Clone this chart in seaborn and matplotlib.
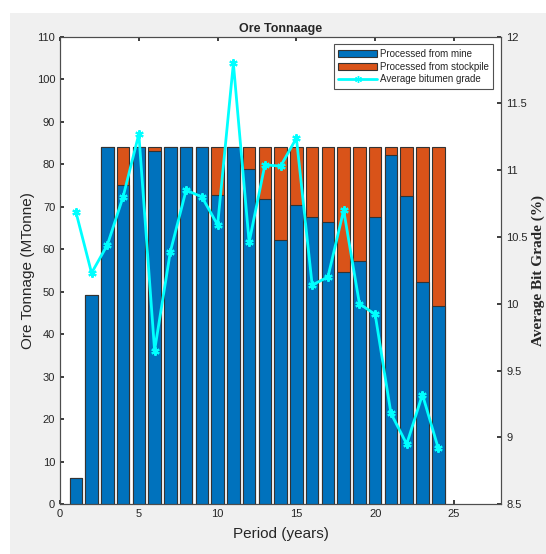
import matplotlib
matplotlib.use("Agg")
import matplotlib.pyplot as plt
import numpy as np
import pandas as pd
import seaborn as sns
from matplotlib.lines import Line2D
from matplotlib.patches import Patch, Rectangle

# data
periods = list(range(1, 25))
from_mine = [6.2, 49.3, 84.0, 75.0, 84.0, 83.0, 84.0, 84.0, 84.0, 72.8, 84.0, 78.9,
             71.8, 62.2, 70.3, 67.6, 66.3, 54.7, 57.3, 67.6, 82.2, 72.6, 52.2, 46.5]
from_stockpile = [0.0, 0.0, 0.0, 9.0, 0.0, 1.0, 0.0, 0.0, 0.0, 11.2, 0.0, 5.1,
                  12.2, 21.8, 13.7, 16.4, 17.7, 29.3, 26.7, 16.4, 1.8, 11.4, 31.8, 37.5]
avg_grade = [10.69, 10.23, 10.44, 10.80, 11.27, 9.65, 10.39, 10.85, 10.80, 10.59, 11.80, 10.46,
             11.04, 11.03, 11.24, 10.14, 10.20, 10.70, 10.00, 9.92, 9.18, 8.95, 9.32, 8.92]

BLUE = "#0072BD"
ORANGE = "#D95319"
CYAN = "#00FFFF"

df = pd.DataFrame({"period": periods, "mine": from_mine, "stockpile": from_stockpile,
                   "grade": avg_grade})
df["total"] = df["mine"] + df["stockpile"]

sns.set_theme(style="white")
plt.rcParams["font.family"] = ["Liberation Sans", "DejaVu Sans"]

fig = plt.figure(figsize=(5.46, 5.54), dpi=100, facecolor="#f0f0f0")
# white strips along the top and left edges of the screenshot
fig.patches.append(Rectangle((0, 1 - 13 / 554), 1, 13 / 554, transform=fig.transFigure,
                             facecolor="white", edgecolor="none", zorder=-1))
fig.patches.append(Rectangle((0, 0), 10 / 546, 1, transform=fig.transFigure,
                             facecolor="white", edgecolor="none", zorder=-1))
ax = fig.add_axes([0.110, 0.090, 0.808, 0.844])
ax.set_facecolor("white")

sns.barplot(data=df, x="period", y="total", native_scale=True, color=ORANGE, saturation=1,
            width=0.8, edgecolor="#333333", linewidth=0.8, ax=ax, zorder=2)
sns.barplot(data=df, x="period", y="mine", native_scale=True, color=BLUE, saturation=1,
            width=0.8, edgecolor="#333333", linewidth=0.8, ax=ax, zorder=3)

ax.set_xlim(0, 28)
ax.set_ylim(0, 110)
ax.set_xticks(range(0, 30, 5))
ax.set_yticks(range(0, 111, 10))
ax.set_xlabel("Period (years)", fontsize=11, color="#262626", labelpad=6)
ax.set_ylabel("Ore Tonnage (MTonne)", fontsize=11, color="#262626", labelpad=1)
ax.set_title("Ore Tonnaage", fontsize=9, fontweight="bold", pad=3)
ax.tick_params(axis="both", direction="in", labelsize=8, colors="#262626", length=3,
               top=True, left=True, bottom=True)
ax.tick_params(axis="y", right=False)

ax2 = ax.twinx()
sns.lineplot(data=df, x="period", y="grade", color=CYAN, lw=2, marker=(6, 2, 0),
             markersize=6, markeredgewidth=1.5, markeredgecolor=CYAN, ax=ax2, zorder=5)
ax2.set_ylim(8.5, 12)
ax2.set_yticks(np.arange(8.5, 12.01, 0.5))
ax2.set_yticklabels(["8.5", "9", "9.5", "10", "10.5", "11", "11.5", "12"])
ax2.set_ylabel("Average Bit Grade (%)", fontsize=11, fontweight="bold", labelpad=3,
               family=["Liberation Serif", "DejaVu Serif"])
ax2.tick_params(axis="y", direction="in", labelsize=8, colors="#262626", length=3)

for a in (ax, ax2):
    for s in a.spines.values():
        s.set_color("#4d4d4d")
        s.set_linewidth(0.8)

handles = [Patch(facecolor=BLUE, edgecolor="#333333", lw=0.8),
           Patch(facecolor=ORANGE, edgecolor="#333333", lw=0.8),
           Line2D([], [], color=CYAN, lw=2, marker=(6, 2, 0), markersize=5,
                  markeredgecolor=CYAN)]
labels = ["Processed from mine", "Processed from stockpile", "Average bitumen grade"]
leg = ax2.legend(handles, labels, loc="upper right", fontsize=7, frameon=True, fancybox=False,
                 edgecolor="#262626", borderpad=0.45, labelspacing=0.3, handlelength=4,
                 handletextpad=0.3, bbox_to_anchor=(0.993, 0.994))
leg.get_frame().set_linewidth(0.8)
ax2.set_zorder(ax.get_zorder() + 1)
ax2.patch.set_visible(False)

fig.savefig("out.png", dpi=100, facecolor=fig.get_facecolor())
